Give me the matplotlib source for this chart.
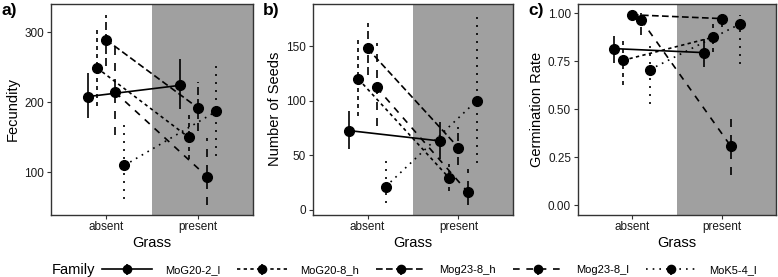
import matplotlib
matplotlib.use("Agg")
import matplotlib.pyplot as plt
import numpy as np

plt.rcParams['font.family'] = ['Liberation Sans', 'DejaVu Sans']

families = ["MoG20-2_l", "MoG20-8_h", "Mog23-8_h", "Mog23-8_l", "MoK5-4_l"]
grass = ["absent", "present"]

# Fecundity: mean, lower, upper for [absent, present]
fec_mean = [[208, 224], [249, 150], [289, 192], [214, 94], [110, 187]]
fec_lo = [[177, 190], [194, 119], [251, 159], [154, 53], [62, 124]]
fec_hi = [[242, 261], [309, 184], [325, 229], [279, 149], [170, 260]]

seed_mean = [[72.6, 63.1], [119.8, 29.0], [147.9, 57.0], [112.2, 16.5], [21.3, 100.0]]
seed_lo = [[56.1, 46.6], [86.3, 17.4], [123.5, 40.9], [76.5, 4.3], [6.4, 43.0]]
seed_hi = [[90.2, 80.8], [155.8, 42.4], [171.6, 75.6], [153.4, 37.5], [46.0, 181.4]]

germ_mean = [[0.815, 0.794], [0.754, 0.874], [0.991, 0.971], [0.965, 0.306], [0.706, 0.943]]
germ_lo = [[0.742, 0.718], [0.628, 0.796], [0.980, 0.929], [0.886, 0.159], [0.528, 0.735]]
germ_hi = [[0.881, 0.863], [0.860, 0.943], [1.000, 0.995], [0.998, 0.458], [0.843, 0.988]]

dashes = [None, (2, 2), (4, 2), (4, 4), (1, 3)]
offsets = [-0.2, -0.1, 0.0, 0.1, 0.2]

W, H = 778, 277
fig = plt.figure(figsize=(W / 100, H / 100), dpi=100)

def px_axes(l, r, t, b):
    return fig.add_axes([l / W, 1 - b / H, (r - l) / W, (b - t) / H])

panels = [
    (51, 253, "a)", "Fecundity", fec_mean, fec_lo, fec_hi, (40, 340), [100, 200, 300], ["100", "200", "300"]),
    (313, 513, "b)", "Number of Seeds", seed_mean, seed_lo, seed_hi, (-4.3, 188.7), [0, 50, 100, 150], ["0", "50", "100", "150"]),
    (578, 776, "c)", "Germination Rate", germ_mean, germ_lo, germ_hi, (-0.048, 1.047), [0, 0.25, 0.5, 0.75, 1.0], ["0.00", "0.25", "0.50", "0.75", "1.00"]),
]

lw = 1.2
handles = []
for pi, (l, r, tag, ylab, mean, lo, hi, ylim, yt, ytl) in enumerate(panels):
    ax = px_axes(l, r, 4, 214.5)
    ax.axvspan(1.5, 2.6, color="#A0A0A0", zorder=0, lw=0)
    for gi, fam in enumerate(families):
        x = np.array([1, 2]) + offsets[gi]
        m = np.array(mean[gi]); lo_ = np.array(lo[gi]); hi_ = np.array(hi[gi])
        eb = ax.errorbar(x, m, yerr=[m - lo_, hi_ - m], fmt='o-', color='black',
                         markersize=7, lw=lw, elinewidth=lw, capsize=0, label=fam, zorder=3)
        line = eb.lines[0]
        bar = eb.lines[2][0]
        if dashes[gi] is not None:
            line.set_dashes(dashes[gi])
            bar.set_linestyle((0, tuple(d * lw for d in dashes[gi])))
        if pi == 0:
            handles.append(eb)
    ax.set_xlim(0.4, 2.6)
    ax.set_ylim(*ylim)
    ax.set_xticks([1, 2])
    ax.set_xticklabels(grass)
    ax.set_yticks(yt)
    ax.set_yticklabels(ytl)
    ax.tick_params(axis='both', length=3, width=0.8, color='#333333', labelsize=8.5,
                   labelcolor='#1a1a1a', pad=2)
    for s in ax.spines.values():
        s.set_color('#333333')
        s.set_linewidth(1.0)
    ax.set_xlabel("Grass", fontsize=10.5, labelpad=2)
    ax.set_ylabel(ylab, fontsize=10.5, labelpad=3)
    fig.text((l - 50) / W, 1 - 10 / H, tag, fontsize=12.5,
             fontweight='bold', ha='left', va='center')

fig.text(52 / W, 1 - 270 / H, "Family", fontsize=10.5, ha='left', va='center')
leg = fig.legend(handles=handles, labels=families, loc='center left',
                 bbox_to_anchor=(102 / W, 1 - 270 / H), ncol=5, frameon=False,
                 fontsize=8, handlelength=4.5, columnspacing=1.5, handletextpad=1.2,
                 borderaxespad=0, borderpad=0, markerscale=0.85)

fig.savefig("out.png", dpi=100)
